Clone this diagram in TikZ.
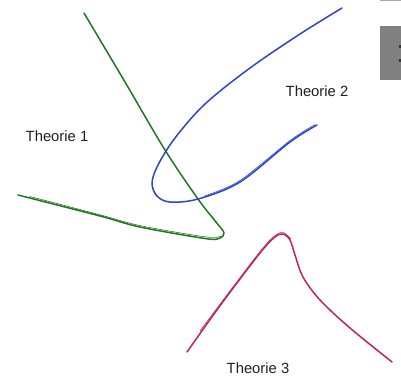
\documentclass[tikz,border=0pt]{standalone}
\usepackage{fontspec}
\setmainfont{Liberation Sans}
\definecolor{tgreen}{RGB}{34,118,34}
\definecolor{tblue}{RGB}{48,66,212}
\definecolor{tred}{RGB}{192,34,96}
\definecolor{boxgray}{RGB}{128,128,128}
\begin{document}
\begin{tikzpicture}[x=1pt,y=-1pt,
  curve/.style={line width=1.5pt,line cap=round,line join=round},
  twin/.style={line width=0.6pt,line cap=round},
  lbl/.style={font=\fontsize{14.8}{17}\selectfont,text=black!88,inner sep=0pt}]
\useasboundingbox (0,0) rectangle (401,376);
% gray panel at right edge
\fill[boxgray] (380,26) rectangle (401,80);
\fill[boxgray!70] (380,0) rectangle (401,1.2);
\fill[black!80] (399,45) rectangle (401,48);
\fill[black!80] (399,59) rectangle (401,62);
% Theorie 1 (green)
\draw[curve,tgreen] plot[smooth,tension=0.55] coordinates {(84,13) (125,82) (165,150) (198,199) (216,222) (224,233) (219,238.5) (205,238.5) (140,227) (100,216) (18,195)};
\draw[twin,tgreen] plot[smooth,tension=0.55] coordinates {(221,236.3) (205,236.8) (140,225.6) (100,214.8) (30,196.5)};
% Theorie 2 (blue)
\draw[curve,tblue] plot[smooth,tension=0.55] coordinates {(342,8) (300,34) (250,68) (205,104) (175,138) (158,165) (152,183) (157,196) (170,202) (198,199) (240,182) (290,142) (317,125)};
\draw[twin,tblue] plot[smooth,tension=0.55] coordinates {(205,195.8) (240,180.5) (290,140.6) (315,124.6)};
% Theorie 3 (red)
\draw[curve,tred] plot[smooth,tension=0.55] coordinates {(187,352) (222,303) (260,253) (275,237) (283,234) (290,240) (295,255) (303,277) (320,300) (350,328) (392,362)};
\draw[twin,tred] plot[smooth,tension=0.55] coordinates {(200,331) (222,301.6) (260,251.6) (275,235.6) (283.5,232.6) (291,239)};
% labels
\node[lbl] (t1) at (57,136) {Theorie 1};
\node[lbl] (t2) at (317,91) {Theorie 2};
\node[lbl] (t3) at (258,368) {Theorie 3};
\end{tikzpicture}
\end{document}
